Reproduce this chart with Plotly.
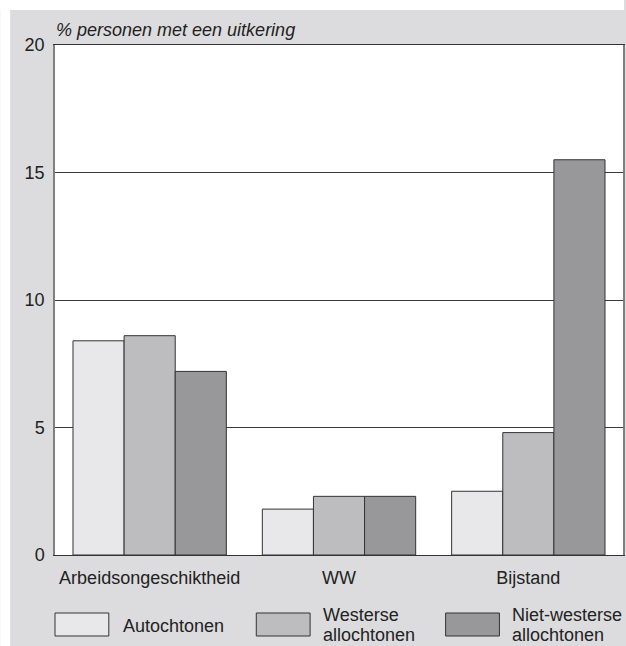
import plotly.graph_objects as go

categories = ["Arbeidsongeschiktheid", "WW", "Bijstand"]
autochtonen = [8.4, 1.8, 2.5]
westerse = [8.6, 2.3, 4.8]
niet_westerse = [7.2, 2.3, 15.5]
series_lines = [["Autochtonen"], ["Westerse", "allochtonen"], ["Niet-westerse", "allochtonen"]]
colors = ["#e8e8ea", "#bdbdc0", "#98989b"]
y_ticks = [0, 5, 10, 15, 20]

W, H = 626, 646
L, R, T, B = 55, 1, 45, 91
PW, PH = W - L - R, H - T - B

def pxx(px):
    return (px - L) / PW

def pxy(py):
    return (H - B - py) / PH

FONT = "Liberation Sans, Arial, Helvetica, sans-serif"

fig = go.Figure()
for lines, vals, col in zip(series_lines, [autochtonen, westerse, niet_westerse], colors):
    fig.add_trace(go.Bar(
        x=categories, y=vals, name=" ".join(lines),
        marker=dict(color=col, line=dict(color="#333333", width=1)),
        showlegend=False,
    ))

shapes = [
    dict(type="rect", xref="paper", yref="paper", x0=pxx(0), x1=pxx(W), y0=pxy(10), y1=pxy(0),
         fillcolor="white", line=dict(width=0), layer="below"),
    dict(type="rect", xref="paper", yref="paper", x0=pxx(0), x1=pxx(10), y0=pxy(H), y1=pxy(0),
         fillcolor="white", line=dict(width=0), layer="below"),
]
annotations = [
    dict(text="<i>% personen met een uitkering</i>", xref="paper", yref="paper",
         x=pxx(54), y=pxy(30), xanchor="left", yanchor="middle", showarrow=False,
         font=dict(family=FONT, size=18, color="#222222")),
]

# legend drawn as boxes with labels
box_x = [55, 257, 447]
text_x = [121, 322, 512]
for bx, tx, lines, col in zip(box_x, text_x, series_lines, colors):
    shapes.append(dict(type="rect", xref="paper", yref="paper",
                       x0=pxx(bx), x1=pxx(bx + 54), y0=pxy(636), y1=pxy(613),
                       fillcolor=col, line=dict(color="#333333", width=1)))
    if len(lines) == 1:
        ys = [626]
    else:
        ys = [615, 635]
    for line, yy in zip(lines, ys):
        annotations.append(dict(text=line, xref="paper", yref="paper",
                                x=pxx(tx), y=pxy(yy), xanchor="left", yanchor="middle",
                                align="left", showarrow=False,
                                font=dict(family=FONT, size=18, color="#222222")))

fig.update_layout(
    width=W, height=H,
    margin=dict(l=L, r=R, t=T, b=B, pad=0),
    paper_bgcolor="#dcdcde",
    plot_bgcolor="white",
    barmode="group",
    bargap=0.19,
    bargroupgap=0,
    shapes=shapes,
    annotations=annotations,
    font=dict(family=FONT, size=18, color="#222222"),
)
fig.update_xaxes(
    showline=True, linecolor="#333333", linewidth=1, mirror=True,
    showgrid=False, ticks="", ticklabelstandoff=6,
    tickfont=dict(family=FONT, size=18, color="#222222"),
)
fig.update_yaxes(
    range=[0, 20], tickvals=y_ticks, ticktext=[str(v) for v in y_ticks],
    showgrid=True, gridcolor="#3a3a3a", gridwidth=1,
    showline=True, linecolor="#808080", linewidth=1.5, mirror=True,
    zeroline=False, ticks="", ticklabelstandoff=5,
    tickfont=dict(family=FONT, size=18, color="#222222"),
)

fig.write_html(
    "out.html",
    config={"displayModeBar": False},
    post_script="document.body.style.margin='0';document.body.style.overflow='hidden';",
)
